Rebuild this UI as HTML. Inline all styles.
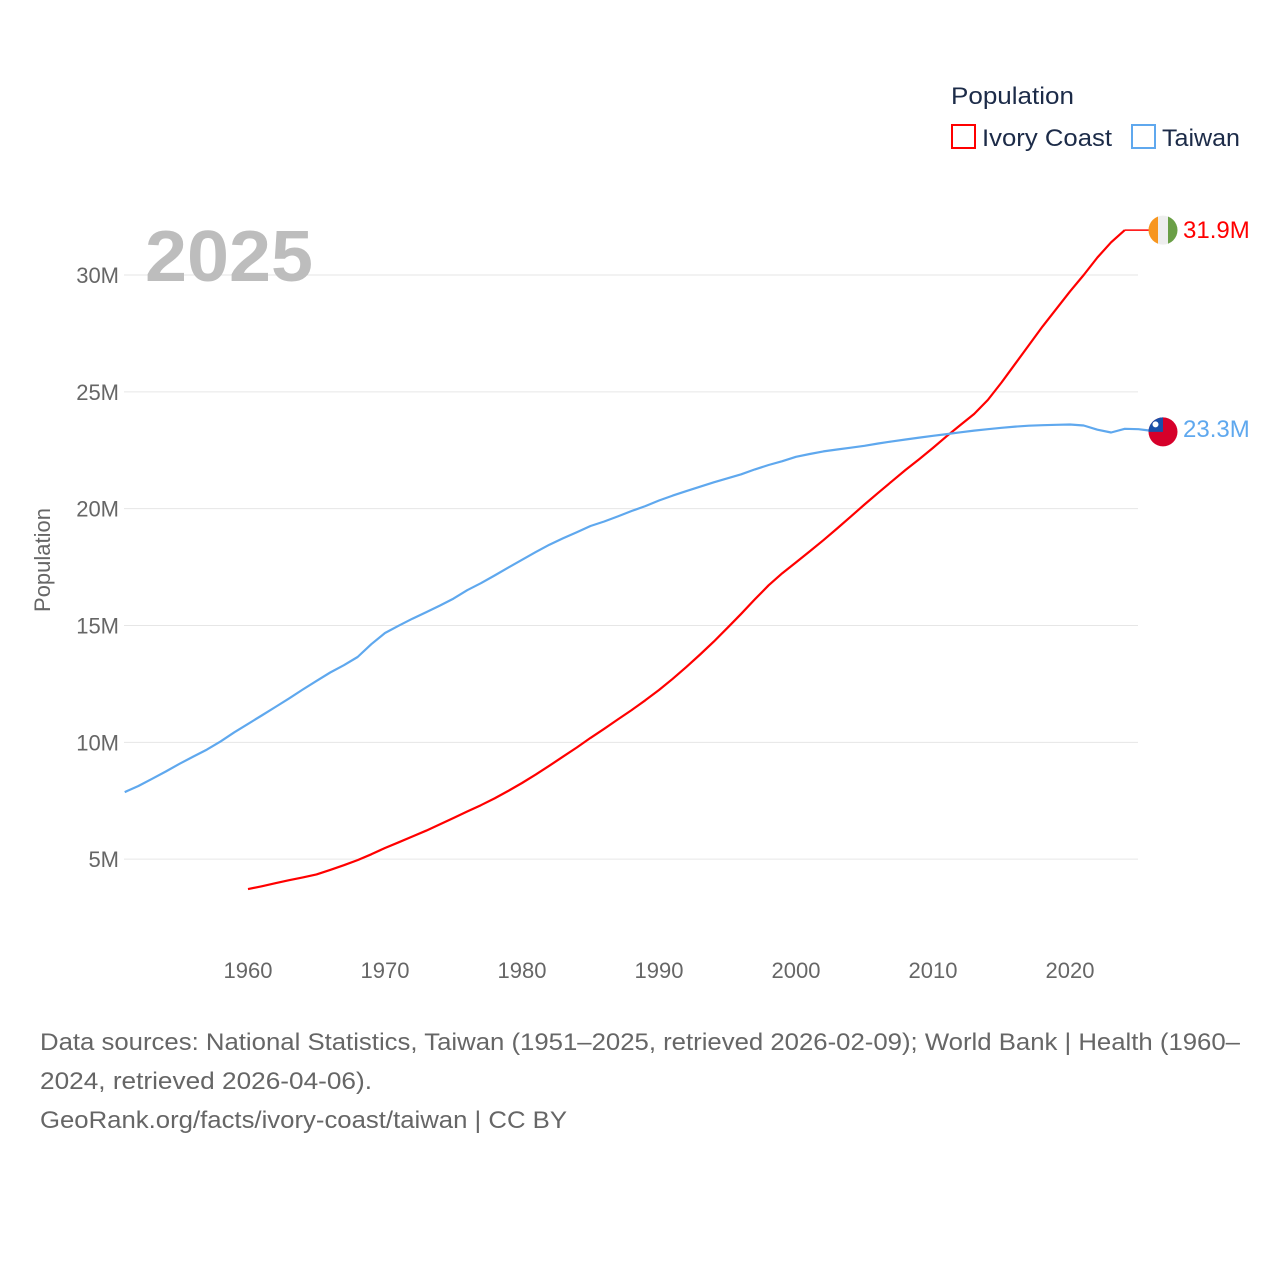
<!DOCTYPE html>
<html><head><meta charset="utf-8"><style>
html,body{margin:0;padding:0;background:#fff;}
svg{display:block;font-family:"Liberation Sans",sans-serif;}
</style></head><body>
<svg id="chart" width="1280" height="1280" viewBox="0 0 1280 1280">
  <g id="grid"></g>
  <g id="yticks"></g>
  <g id="xticks"></g>
  <text x="145" y="281" font-size="72" font-weight="bold" fill="#bdbdbd" textLength="168" lengthAdjust="spacingAndGlyphs">2025</text>
  <text transform="translate(50,560) rotate(-90)" text-anchor="middle" font-size="22" fill="#666">Population</text>
  <g id="series"></g>
  <g>
    <text x="951" y="104" font-size="24" fill="#1c2b48" textLength="123" lengthAdjust="spacingAndGlyphs">Population</text>
    <g>
      <rect x="952" y="125" width="23" height="23" fill="none" stroke="#ff0000" stroke-width="2"/>
      <text x="982" y="146" font-size="24" fill="#1c2b48" textLength="130" lengthAdjust="spacingAndGlyphs">Ivory Coast</text>
    </g>
    <g>
      <rect x="1132" y="125" width="23" height="23" fill="none" stroke="#5fa8ee" stroke-width="2"/>
      <text x="1162" y="146" font-size="24" fill="#1c2b48" textLength="78" lengthAdjust="spacingAndGlyphs">Taiwan</text>
    </g>
  </g>
  <g font-size="24" fill="#666">
    <text x="40" y="1050" textLength="1200" lengthAdjust="spacingAndGlyphs">Data sources: National Statistics, Taiwan (1951–2025, retrieved 2026-02-09); World Bank | Health (1960–</text>
    <text x="40" y="1089" textLength="332" lengthAdjust="spacingAndGlyphs">2024, retrieved 2026-04-06).</text>
    <a><text x="40" y="1128" textLength="527" lengthAdjust="spacingAndGlyphs">GeoRank.org/facts/ivory-coast/taiwan | CC BY</text></a>
  </g>
</svg>
<script>
const yTicks = [5, 10, 15, 20, 25, 30];
const yTickLabels = ["5M", "10M", "15M", "20M", "25M", "30M"];
const xTicks = [1960, 1970, 1980, 1990, 2000, 2010, 2020];
const ivoryStart = 1960;
const ivoryValues = [3.72,3.84,3.97,4.10,4.22,4.35,4.54,4.74,4.96,5.21,5.48,5.72,5.97,6.22,6.49,6.76,7.04,7.31,7.60,7.92,8.26,8.62,9.00,9.39,9.78,10.19,10.58,10.98,11.38,11.80,12.24,12.72,13.23,13.76,14.31,14.90,15.50,16.12,16.72,17.24,17.70,18.17,18.65,19.15,19.66,20.18,20.68,21.17,21.66,22.12,22.60,23.10,23.58,24.05,24.65,25.40,26.20,27.00,27.80,28.55,29.30,30.00,30.75,31.40,31.92];
const taiwanStart = 1951;
const taiwanValues = [7.87,8.13,8.44,8.75,9.08,9.39,9.69,10.04,10.43,10.79,11.15,11.51,11.88,12.26,12.63,12.99,13.30,13.65,14.20,14.68,14.99,15.29,15.57,15.85,16.15,16.51,16.81,17.14,17.48,17.81,18.14,18.46,18.73,18.99,19.26,19.45,19.67,19.90,20.11,20.35,20.56,20.75,20.94,21.13,21.30,21.47,21.68,21.87,22.03,22.22,22.34,22.45,22.53,22.61,22.69,22.79,22.88,22.96,23.04,23.12,23.19,23.27,23.34,23.40,23.46,23.51,23.55,23.57,23.59,23.60,23.56,23.38,23.26,23.42,23.40,23.33];
const ivoryLabel = "31.9M";
const taiwanLabel = "23.3M";

const NS = "http://www.w3.org/2000/svg";
const xs = yr => 248 + (yr - 1960) * (1070 - 248) / 60;
const ys = v => 976 - v * (976 - 275) / 30;
function mk(tag, attrs, parent) {
  const e = document.createElementNS(NS, tag);
  for (const k in attrs) e.setAttribute(k, attrs[k]);
  parent.appendChild(e);
  return e;
}
const grid = document.getElementById('grid');
const yg = document.getElementById('yticks');
const xg = document.getElementById('xticks');
const sg = document.getElementById('series');
yTicks.forEach((v, i) => {
  const l = mk('line', {x1: 124, x2: 1138, y1: ys(v), y2: ys(v), stroke: '#e6e6e6', 'stroke-width': 1}, grid);
  
  
  const t = mk('text', {x: 119, y: ys(v) + 8, 'text-anchor': 'end', 'font-size': 22, fill: '#666'}, yg);
  t.textContent = yTickLabels[i];
  
  
});
xTicks.forEach(yr => {
  const t = mk('text', {x: xs(yr), y: 978, 'text-anchor': 'middle', 'font-size': 22, fill: '#666'}, xg);
  t.textContent = yr;
  
  
});
function line(start, vals, color, name) {
  const d = vals.map((v, i) => (i ? 'L' : 'M') + xs(start + i).toFixed(1) + ',' + ys(v).toFixed(1)).join('');
  const p = mk('path', {d: d, fill: 'none', stroke: color, 'stroke-width': 2.2, 'stroke-linejoin': 'round'}, sg);
  
  
}
line(ivoryStart, ivoryValues, '#ff0000', 'ivory-coast-line');
line(taiwanStart, taiwanValues, '#5fa8ee', 'taiwan-line');

// end labels
const iy = ys(ivoryValues[ivoryValues.length - 1]);
const ix = xs(ivoryStart + ivoryValues.length - 1);
const ty = ys(taiwanValues[taiwanValues.length - 1]);
const tx = xs(taiwanStart + taiwanValues.length - 1);
const cx = 1163;
mk('line', {x1: ix, x2: cx - 14, y1: iy, y2: iy, stroke: '#ff0000', 'stroke-width': 1.5}, sg);
mk('line', {x1: tx, x2: cx - 14, y1: ty, y2: ty, stroke: '#5fa8ee', 'stroke-width': 1.5}, sg);
// ivory coast flag
const defs = mk('defs', {}, sg);
const c1 = mk('clipPath', {id: 'cf1'}, defs); mk('circle', {cx: cx, cy: iy, r: 14.5}, c1);
const c2 = mk('clipPath', {id: 'cf2'}, defs); mk('circle', {cx: cx, cy: ty + 1, r: 14.5}, c2);
const f1 = mk('g', {'clip-path': 'url(#cf1)'}, sg);


mk('rect', {x: cx - 15, y: iy - 15, width: 10, height: 30, fill: '#f7951e'}, f1);
mk('rect', {x: cx - 5, y: iy - 15, width: 10, height: 30, fill: '#eeeeee'}, f1);
mk('rect', {x: cx + 5, y: iy - 15, width: 10, height: 30, fill: '#6a9f46'}, f1);
const f2 = mk('g', {'clip-path': 'url(#cf2)'}, sg);


mk('rect', {x: cx - 15, y: ty - 14, width: 30, height: 30, fill: '#d6002a'}, f2);
mk('rect', {x: cx - 15, y: ty - 14, width: 15, height: 15, fill: '#1a4fa8'}, f2);
mk('circle', {cx: cx - 7.5, cy: ty - 6.5, r: 3, fill: '#fff'}, f2);
const l1 = mk('text', {x: 1183, y: iy + 8, 'font-size': 24, fill: '#ff0000'}, sg);
l1.textContent = ivoryLabel;


const l2 = mk('text', {x: 1183, y: ty + 6, 'font-size': 24, fill: '#5fa8ee'}, sg);
l2.textContent = taiwanLabel;


</script>
</body></html>
